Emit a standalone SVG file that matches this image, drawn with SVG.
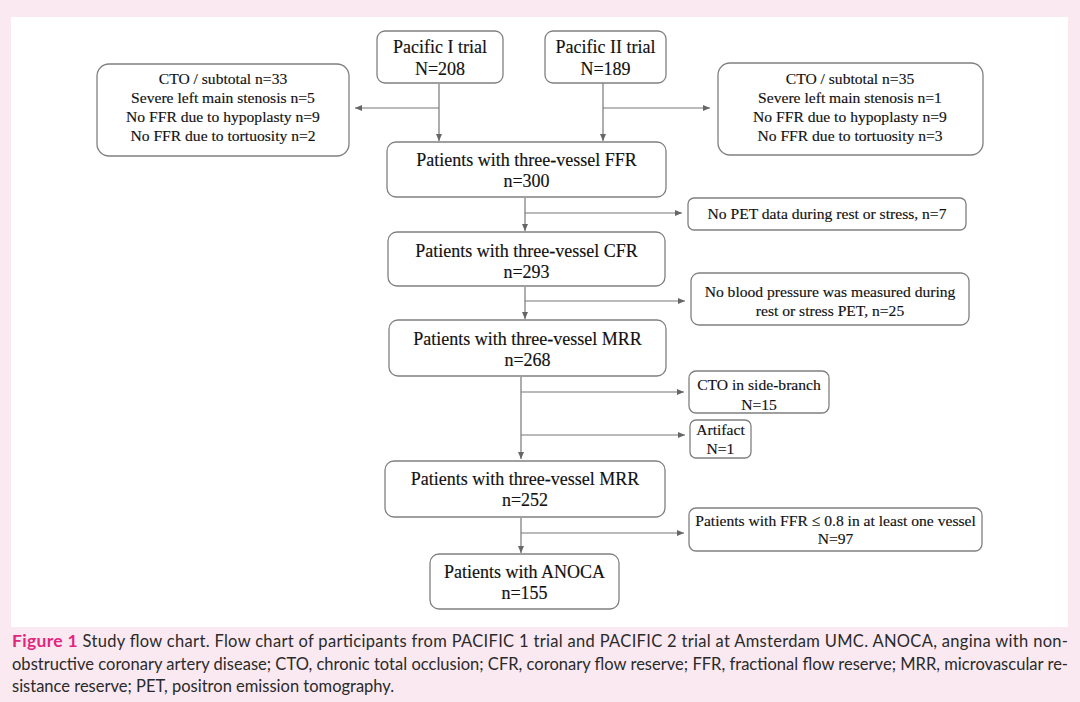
<svg xmlns="http://www.w3.org/2000/svg" width="1080" height="702" viewBox="0 0 1080 702">
<defs>
<marker id="ah" markerWidth="8" markerHeight="8" refX="7" refY="4" orient="auto" markerUnits="userSpaceOnUse">
<path d="M0,1 L7,4 L0,7 Z" fill="#666"/>
</marker>
<style>
.box{fill:#fff;stroke:#808080;stroke-width:1.3}
.t{font-family:"Liberation Serif","Times New Roman",serif;fill:#111;text-anchor:middle;stroke:#111;stroke-width:0.15}
.m{font-size:18px}
.s{font-size:15.6px}
.c{fill:none;stroke:#777;stroke-width:1.2}
.cap{font-family:Lato,"Open Sans",sans-serif;font-size:16.5px;fill:#2a2a2a}
.fig{font-weight:bold;fill:#e2267e;font-size:17.5px}
</style>
</defs>
<rect x="0" y="0" width="1080" height="702" fill="#fae9f1"/>
<rect x="11" y="17" width="1057" height="610" fill="#fff"/>

<g id="connectors">
<path class="c" d="M439,84 V141" marker-end="url(#ah)"/>
<path class="c" d="M439,108 H355" marker-end="url(#ah)"/>
<path class="c" d="M603,83 V141" marker-end="url(#ah)"/>
<path class="c" d="M603,108 H710" marker-end="url(#ah)"/>
<path class="c" d="M525,198 V231" marker-end="url(#ah)"/>
<path class="c" d="M525,213 H682" marker-end="url(#ah)"/>
<path class="c" d="M525,287 V319" marker-end="url(#ah)"/>
<path class="c" d="M525,301 H685" marker-end="url(#ah)"/>
<path class="c" d="M521,377 V459" marker-end="url(#ah)"/>
<path class="c" d="M521,392 H684" marker-end="url(#ah)"/>
<path class="c" d="M521,435 H685" marker-end="url(#ah)"/>
<path class="c" d="M521,518 V553" marker-end="url(#ah)"/>
<path class="c" d="M521,533 H684" marker-end="url(#ah)"/>
</g>

<g id="pacific1">
<rect class="box" x="377" y="31" width="126" height="52" rx="8"/>
<text class="t m" x="440" y="53">Pacific I trial</text>
<text class="t m" x="440" y="75">N=208</text>
</g>
<g id="pacific2">
<rect class="box" x="545" y="31" width="121" height="52" rx="8"/>
<text class="t m" x="605.5" y="53">Pacific II trial</text>
<text class="t m" x="605.5" y="75">N=189</text>
</g>
<g id="excl1">
<rect class="box" x="97" y="64" width="252" height="92" rx="12"/>
<text class="t s" x="223" y="84">CTO / subtotal  n=33</text>
<text class="t s" x="223" y="103">Severe left main  stenosis n=5</text>
<text class="t s" x="223" y="122">No FFR due to hypoplasty n=9</text>
<text class="t s" x="223" y="141">No FFR due to tortuosity n=2</text>
</g>
<g id="excl2">
<rect class="box" x="718" y="63" width="265" height="92" rx="12"/>
<text class="t s" x="850" y="84">CTO / subtotal n=35</text>
<text class="t s" x="850" y="103">Severe left main  stenosis n=1</text>
<text class="t s" x="850" y="122">No FFR due to hypoplasty n=9</text>
<text class="t s" x="850" y="141">No FFR due to tortuosity n=3</text>
</g>
<g id="ffr">
<rect class="box" x="387" y="142" width="279" height="55" rx="9"/>
<text class="t m" x="526.5" y="166">Patients with three-vessel  FFR</text>
<text class="t m" x="526.5" y="187">n=300</text>
</g>
<g id="nopet">
<rect class="box" x="688" y="198" width="278" height="32" rx="6"/>
<text class="t s" x="827" y="219">No PET data during rest or stress, n=7</text>
</g>
<g id="cfr">
<rect class="box" x="388" y="232" width="277" height="54" rx="9"/>
<text class="t m" x="526.5" y="257">Patients with three-vessel  CFR</text>
<text class="t m" x="526.5" y="278">n=293</text>
</g>
<g id="nobp">
<rect class="box" x="691" y="273" width="278" height="52" rx="8"/>
<text class="t s" x="830" y="297">No blood pressure was measured  during</text>
<text class="t s" x="830" y="316">rest or stress PET, n=25</text>
</g>
<g id="mrr268">
<rect class="box" x="389" y="320" width="277" height="56" rx="9"/>
<text class="t m" x="527.5" y="345">Patients with three-vessel  MRR</text>
<text class="t m" x="527.5" y="366">n=268</text>
</g>
<g id="ctoside">
<rect class="box" x="689" y="371" width="140" height="42" rx="7"/>
<text class="t s" x="759" y="390">CTO in side-branch</text>
<text class="t s" x="759" y="410">N=15</text>
</g>
<g id="artifact">
<rect class="box" x="690" y="420" width="61" height="38" rx="6"/>
<text class="t s" x="720.5" y="435">Artifact</text>
<text class="t s" x="720.5" y="454">N=1</text>
</g>
<g id="mrr252">
<rect class="box" x="385" y="461" width="280" height="56" rx="9"/>
<text class="t m" x="525" y="485">Patients with three-vessel  MRR</text>
<text class="t m" x="525" y="506">n=252</text>
</g>
<g id="ffr08">
<rect class="box" x="689" y="508" width="293" height="43" rx="7"/>
<text class="t s" x="835.5" y="526">Patients with  FFR ≤ 0.8  in  at least one vessel</text>
<text class="t s" x="835.5" y="544">N=97</text>
</g>
<g id="anoca">
<rect class="box" x="430" y="554" width="189" height="55" rx="9"/>
<text class="t m" x="524.5" y="578">Patients with ANOCA</text>
<text class="t m" x="524.5" y="599">n=155</text>
</g>

<g id="caption">
<text class="cap" x="12" y="647" textLength="1056" lengthAdjust="spacing"><tspan class="fig">Figure 1</tspan><tspan>  Study flow chart. Flow chart of participants from PACIFIC 1 trial and PACIFIC 2 trial at Amsterdam UMC. ANOCA, angina with non-</tspan></text>
<text class="cap" x="12" y="670" textLength="1056" lengthAdjust="spacing">obstructive coronary artery disease; CTO, chronic total occlusion; CFR, coronary flow reserve; FFR, fractional flow reserve; MRR, microvascular re-</text>
<text class="cap" x="12" y="692">sistance reserve; PET, positron emission tomography.</text>
</g>
</svg>
